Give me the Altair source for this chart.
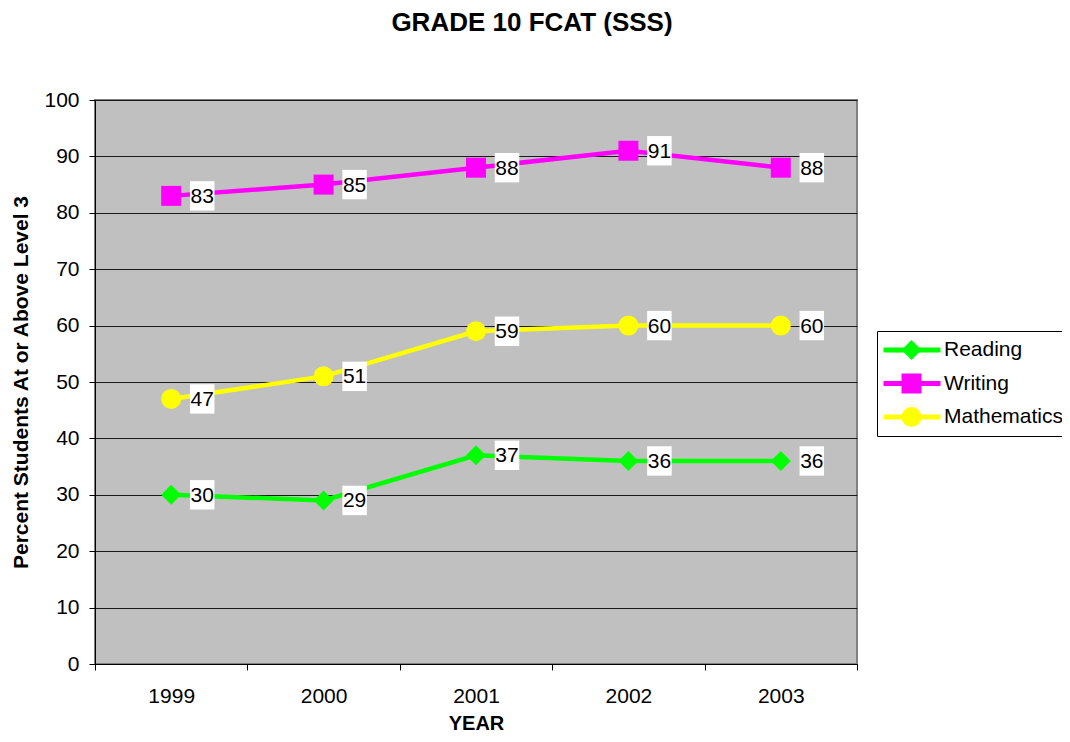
import altair as alt
import pandas as pd

years = ["1999", "2000", "2001", "2002", "2003"]
series = ["Reading", "Writing", "Mathematics"]
reading = [30, 29, 37, 36, 36]
writing = [83, 85, 88, 91, 88]
math = [47, 51, 59, 60, 60]
colors = ["#00FF00", "#FF00FF", "#FFFF00"]
shapes = ["diamond", "square", "circle"]
y_ticks = [0, 10, 20, 30, 40, 50, 60, 70, 80, 90, 100]

rows = []
for name, vals in zip(series, [reading, writing, math]):
    for yr, v in zip(years, vals):
        rows.append({"year": yr, "series": name, "series2": name, "value": v})
df = pd.DataFrame(rows)

FONT = "Liberation Sans"
FS = 21

x = alt.X(
    "year:N",
    title="YEAR",
    sort=years,
    scale=alt.Scale(type="band", paddingInner=0, paddingOuter=0),
    axis=alt.Axis(labelAngle=0, tickBand="extent", tickSize=6, labelPadding=15,
                  labelFontSize=FS, titleFontSize=20, titleFontWeight="bold",
                  titlePadding=7, grid=False),
)
y = alt.Y(
    "value:Q",
    title="Percent Students At or Above Level 3",
    scale=alt.Scale(domain=[0, 100], nice=False),
    axis=alt.Axis(values=y_ticks, tickSize=6, labelPadding=10, labelFontSize=FS,
                  titleFontSize=21, titleFontWeight="bold", titlePadding=12,
                  grid=True, gridColor="#1a1a1a", gridWidth=1),
)

base = alt.Chart(df)

lines = base.mark_line(strokeWidth=4.5).encode(
    x=x, y=y,
    color=alt.Color(
        "series:N",
        sort=series,
        scale=alt.Scale(range=colors),
        legend=alt.Legend(
            title=None, orient="none", legendX=782, legendY=231,
            symbolType="stroke", symbolSize=3249, symbolStrokeWidth=5,
            clipHeight=30, rowPadding=3.5, padding=4,
            fillColor="white", strokeColor="black",
            labelFont=FONT, labelFontSize=FS, labelColor="black", labelOffset=1,
        ),
    ),
)

pt_legend = alt.Legend(
    title=None, orient="none", legendX=802, legendY=231,
    symbolSize=400, symbolStrokeWidth=0,
    clipHeight=30, rowPadding=3.5, padding=4,
    labelExpr="''", labelFontSize=FS, labelFont=FONT,
)
points = base.mark_point(filled=True, opacity=1, size=400, strokeWidth=0).encode(
    x=x, y=y,
    fill=alt.Fill("series2:N", scale=alt.Scale(domain=series, range=colors), legend=pt_legend),
    shape=alt.Shape("series2:N", scale=alt.Scale(domain=series, range=shapes), legend=pt_legend),
)

boxes = base.mark_point(
    shape="M-1,-1.2H1V1.2H-1Z", size=600, filled=True, fill="white",
    opacity=1, strokeWidth=0, xOffset=31,
).encode(x=x, y=y)

labels = base.mark_text(
    dx=31, dy=1, fontSize=FS, font=FONT, color="black", align="center", baseline="middle"
).encode(x=x, y=y, text="value:Q")

chart = alt.layer(lines, points, boxes, labels).properties(
    width=762,
    height=564,
    title=alt.TitleParams("GRADE 10 FCAT (SSS)", fontSize=26, fontWeight="bold",
                          font=FONT, color="black", anchor="middle", dx=56, offset=53),
    autosize=alt.AutoSizeParams(type="none"),
    padding={"left": 87, "top": 92, "right": 205, "bottom": 70},
    background="white",
).configure_view(
    fill="#C0C0C0", stroke="#808080", strokeWidth=2
).configure_axis(
    domainColor="black", tickColor="black", labelColor="black", titleColor="black",
    labelFont=FONT, titleFont=FONT,
)

chart.save("out.html", embed_options={"renderer": "svg", "actions": False})
